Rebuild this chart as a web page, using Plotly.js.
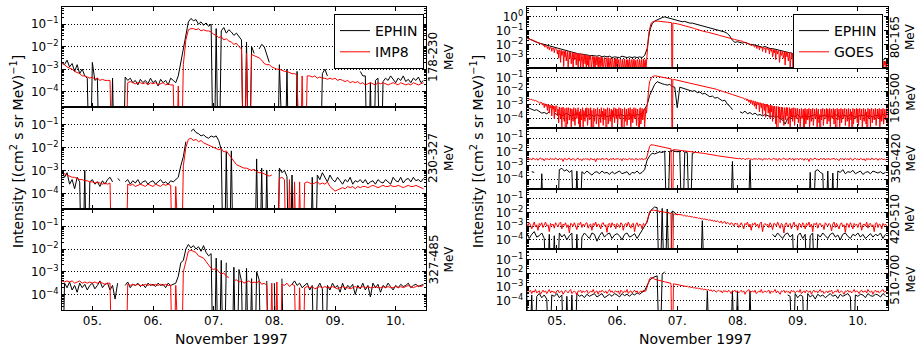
<!DOCTYPE html>
<html><head><meta charset="utf-8">
<script src="https://cdn.plot.ly/plotly-3.0.1.min.js"></script>
<style>html,body{margin:0;padding:0;background:#fff}#chart{width:924px;height:350px}</style>
</head><body><div id="chart"></div>
<script>
// ---------- time base ----------
const startTime = '1997-11-04 12:00';
const endTime = '1997-11-10 12:00';
const hourMs = 3600000;        // EPHIN / IMP8 sampling
const halfHourMs = 1800000;    // GOES sampling (high channels)
const quarterHourMs = 900000;  // GOES sampling (low channels)
const dayTicks = ['1997-11-05','1997-11-06','1997-11-07','1997-11-08','1997-11-09','1997-11-10'];
const dayTickText = ['05.','06.','07.','08.','09.','10.'];
const decadeTicks = [1e-4, 1e-3, 1e-2, 1e-1, 1];
const decadeText = ['10<sup>−4</sup>','10<sup>−3</sup>','10<sup>−2</sup>','10<sup>−1</sup>','10<sup>0</sup>'];

// ---------- data: log10 intensity (null = no data, -9 = zero count) ----------
// Left column, hourly from 4 Nov 12:00
const ephin_178_230 = [
-2.7,-2.8,-2.6,-2.9,-2.75,-3.1,-2.8,-3.2,-3.0,-3.3,-3.4,-9,
-2.7,-3.5,-3.4,-9,null,null,null,-9,-3.4,-9,null,null,
-9,-3.35,-3.5,-3.4,-3.6,-3.5,-3.7,-3.45,-3.6,-3.5,-3.65,-3.4,
-3.6,-3.5,-3.75,-3.45,-3.6,-3.5,-3.7,-3.4,-3.5,-3.6,-3.3,-2.7,
-2.2,-1.45,-0.9,-0.75,-0.85,-0.8,-1.0,-0.9,-1.05,-0.95,-1.1,-1.0,
-9,-1.2,-9,-1.3,-1.15,-1.4,-1.25,-1.35,-1.5,-1.4,-1.55,-1.7,
-9,-1.8,-9,-2.0,-2.3,null,-2.1,-1.9,-2.0,-2.4,-2.7,null,
null,-9,-2.8,-9,-9,-3.0,-9,null,-9,-3.1,-9,null,
null,null,null,null,null,null,-9,-3.2,-3.0,-3.3,null,null,
null,null,null,null,null,null,null,null,null,null,-3.1,-3.3,
-3.3,-9,-3.6,-9,-3.5,-3.4,-9,-3.55,-3.4,-3.5,-3.3,-3.45,
-3.6,-3.4,-3.5,-3.3,-3.55,-3.45,-3.6,-3.4,-3.5,-3.35,-3.6,-3.5];
const imp8_178_230 = [
-2.75,-2.8,-2.9,-2.95,-3.0,-3.1,-3.15,-3.2,-3.3,-3.3,-3.35,-3.4,
-3.35,-3.45,-3.4,-3.5,-3.45,-3.5,-3.5,-3.5,-9,null,null,null,
null,-9,-3.6,-3.55,-3.6,-3.65,-3.6,-3.6,-3.65,-3.6,-3.7,-3.6,
-3.65,-3.6,-3.7,-3.65,-3.6,-3.7,-3.65,-3.7,-3.7,-9,-3.75,-9,
-2.8,-1.7,-1.25,-1.2,-1.2,-1.25,-1.2,-1.3,-1.25,-1.3,-1.3,-1.35,
-1.45,-1.5,-1.6,-1.55,-1.7,-1.65,-1.75,-1.8,-1.9,-1.85,-2.0,-2.1,
-9,-2.3,-9,-2.35,-2.4,-2.45,-2.5,-2.6,-2.75,-2.8,-2.8,-2.9,
-2.95,-3.0,-3.0,-3.05,-3.1,-3.1,-3.15,-3.2,-3.2,-3.25,-9,-3.3,
-9,-3.3,-3.3,-3.35,-3.3,-3.4,-3.35,-3.4,-3.4,-3.45,-3.4,-3.45,
-3.4,-3.5,-3.45,-3.5,-3.55,-3.5,-3.6,-3.55,-3.6,-3.55,-3.65,-3.6,
-3.7,-3.65,-3.6,-3.65,-3.7,-3.6,-3.65,-3.6,-3.65,-3.7,-3.65,-3.6,
-3.65,-3.7,-3.6,-3.65,-3.7,-3.65,-3.7,-3.6,-3.65,-3.7,-3.65,-3.6];
const ephin_230_327 = [
-3.0,-3.3,-3.1,-3.6,-3.4,-3.8,-3.3,-3.5,-9,-3.0,-9,-3.5,
-3.4,-3.6,-3.5,-3.7,-3.45,-3.6,-3.4,-3.3,-3.5,null,-3.35,-3.45,
null,-3.5,-3.4,-3.6,-3.45,-3.55,-3.4,-3.6,-3.5,-3.45,-3.6,-3.5,
-3.45,-3.6,-3.5,-3.4,-3.55,-3.5,-3.6,-3.45,-3.5,-3.4,-3.3,-2.8,
-2.4,-1.75,null,-1.3,-1.2,-1.35,-1.4,-1.5,-1.45,-1.55,-1.6,-1.5,
-1.55,-1.5,-1.7,-2.1,-9,-2.2,-9,-2.15,-9,null,null,null,
null,null,null,null,-9,-2.5,-9,-2.9,-9,-3.0,-9,null,
null,-9,-2.9,-3.1,-3.0,-3.27,-9,-3.2,-9,null,null,null,
null,null,-9,-3.3,-9,-3.2,-3.4,-3.1,-3.3,-3.5,-3.2,-3.4,
-3.5,-3.3,-3.45,-3.6,-3.4,-3.5,-3.3,-3.6,-3.45,-3.5,-3.4,-3.55,
-3.4,-3.6,-3.5,-3.45,-3.6,-3.4,-3.5,-3.55,-3.4,-3.5,-3.6,-3.3,
-3.45,-3.5,-3.3,-3.55,-3.4,-3.35,-3.5,-3.3,-3.45,-3.4,-3.5,-3.35];
const imp8_230_327 = [
-3.1,-3.15,-3.2,-3.25,-3.3,-3.3,-3.35,-3.4,-3.4,-3.45,-3.45,-3.5,
-3.5,-3.55,-3.5,-3.55,-3.6,-3.55,-3.6,-3.55,-9,null,null,null,
null,-9,-3.6,-3.65,-3.6,-3.7,-3.65,-3.6,-3.65,-3.7,-3.6,-3.65,
-3.7,-3.6,-3.65,-3.7,-3.6,-3.65,-3.6,-3.65,-9,-3.7,-9,-9,
-2.8,-2.0,-1.65,-1.6,-1.7,-1.65,-1.75,-1.7,-1.8,-1.85,-1.9,-1.95,
-2.0,-2.05,-2.1,-2.05,-2.2,-2.15,-2.3,-2.4,-2.6,-2.75,-2.8,-2.85,
-2.9,-2.9,-2.95,-3.0,-2.95,-3.05,-3.1,-3.1,-3.15,-3.2,-3.25,-3.2,
null,-9,-3.35,-3.3,-3.4,-9,-3.4,-9,-3.5,-9,-3.5,-9,
-3.55,-3.5,-3.55,-3.6,-3.55,-3.5,-3.6,-3.55,-3.6,-3.5,-3.7,-3.8,
-3.9,-3.85,-3.8,-3.75,-3.8,-3.7,-3.75,-3.7,-3.8,-3.7,-3.75,-3.7,
-3.7,-3.75,-3.7,-3.65,-3.7,-3.75,-3.7,-3.65,-3.7,-3.7,-3.65,-3.7,
-3.7,-3.65,-3.7,-3.75,-3.7,-3.65,-3.7,-3.7,-3.65,-3.7,-3.75,-3.8];
const ephin_327_485 = [
-9,-3.5,-3.7,-3.45,-3.8,-3.6,-3.9,-3.5,-3.7,-3.55,-3.8,-3.6,
-3.5,-3.75,-3.6,-3.4,-3.7,-3.55,-3.5,-3.8,-3.6,-4.2,-3.5,null,
null,-3.6,-3.45,-3.7,-3.55,-3.6,-3.5,-3.65,-3.55,-3.7,-3.5,-3.6,
-3.55,-3.65,-3.5,-3.6,-3.55,-3.7,-3.5,-3.6,-3.55,-3.5,-3.2,-2.6,
-2.5,-2.0,-1.8,-1.95,-1.85,-2.0,-1.9,-2.1,-1.85,-2.15,-2.3,-2.2,
-9,-2.4,-9,-2.5,-9,-2.6,null,-9,-2.8,-9,-2.9,-3.4,
-9,-2.85,-9,-3.3,-9,-3.0,-3.35,-9,null,-3.4,-9,null,
-3.5,-9,null,-3.3,-9,null,null,-3.55,-3.4,-3.6,-3.5,-3.7,
-3.6,-3.5,-3.8,-3.6,-9,-3.7,-3.5,-3.75,-9,-3.6,-3.8,-3.5,
-3.7,-3.6,-3.9,-3.5,-3.8,-3.6,-3.7,-3.55,-4.0,-3.6,-3.75,-3.5,
-3.8,-3.6,-4.1,-3.5,-3.7,-3.55,-3.9,-3.6,-3.7,-3.5,-3.65,-3.8,
-3.6,-3.7,-3.55,-3.65,-3.6,-3.5,-3.7,-3.6,-3.55,-3.65,-3.6,-3.55];
const imp8_327_485 = [
-3.4,-3.45,-3.4,-3.45,-3.4,-3.5,-3.45,-3.4,-3.5,-3.45,-3.5,-3.45,
-3.5,-3.45,-3.5,-3.45,-3.5,-3.55,-3.5,-3.5,-9,null,null,null,
null,-9,-3.55,-3.6,-3.55,-3.6,-3.55,-3.6,-3.6,-3.55,-3.6,-3.55,
-3.6,-3.55,-3.6,-3.55,-3.6,-3.55,-3.6,-3.6,-9,-3.6,-9,-9,
-3.0,-2.5,-2.1,-2.05,-2.1,-2.15,-2.3,-2.35,-2.4,-2.55,-2.7,-2.85,
-2.9,-2.85,-3.0,-3.1,-3.05,-3.2,-3.25,null,-3.4,-3.35,-3.45,-3.4,
-3.5,-3.45,-3.4,-3.5,-3.45,-3.5,-3.4,-3.55,-3.5,-3.6,-9,-3.5,
-9,-3.45,-9,-3.55,-3.6,-3.5,-3.65,-3.55,-3.6,-9,-3.7,-9,
-3.7,-3.65,-3.7,-3.65,-3.75,-3.7,-3.65,-3.7,-3.65,-3.7,-3.7,-3.65,
-3.7,-3.75,-3.7,-3.65,-3.7,-3.7,-3.75,-3.7,-3.65,-3.7,-3.7,-3.65,
-3.7,-3.65,-3.7,-3.7,-3.65,-3.7,-3.7,-3.65,-3.7,-3.65,-3.7,-3.7,
-3.65,-3.7,-3.65,-3.7,-3.65,-3.6,-3.65,-3.7,-3.65,-3.6,-3.65,-3.6];

// Right column: EPHIN hourly, GOES quarter/half-hourly, from 4 Nov 12:00
const ephin_80_165 = [
-1.5,-1.6,-1.7,-1.75,-1.85,-1.9,-1.95,-2.0,-2.1,-2.15,-2.2,-2.25,
-2.3,-2.35,-2.4,-2.45,-2.5,-2.55,-2.6,-2.6,-2.65,-2.7,-2.7,-2.75,
-2.75,-2.8,-2.8,-2.85,-2.85,-2.8,-2.9,-2.85,-2.9,-2.85,-2.95,-2.9,
-2.9,-2.95,-2.85,-2.9,-2.95,-2.9,-2.95,-2.9,-2.95,-2.9,-2.95,-2.8,
-2.3,-1.0,-0.5,-0.3,-0.2,-0.1,-0.05,0.0,-0.05,-0.1,-0.15,-0.25,
-0.25,-0.3,-0.35,-0.33,-0.4,-0.45,-0.45,-0.5,-0.55,-0.6,-0.62,-0.68,
-0.72,-0.75,-0.85,-0.9,-0.95,-1.0,-1.02,-1.1,-1.2,-1.4,-1.7,-1.85,
-1.8,-1.85,-1.9,-1.85,-1.95,-2.0,-2.0,-2.05,-2.1,-2.15,-2.2,-2.15,
-2.25,-2.3,-2.3,-2.35,-2.4,-2.4,-2.45,-2.5,-2.55,-2.6,-2.65,-2.7,
-2.72,-2.75,-2.78,-2.8,-2.82,-2.85,-2.83,-2.88,-2.9,-2.92,-2.9,-2.95,
-2.95,-2.97,-3.0,-2.98,-3.0,-3.02,-3.0,-3.05,-3.03,-3.05,-3.08,-3.05,
-3.05,-3.1,-3.08,-3.1,-3.12,-3.1,-3.12,-3.15,-3.1,-3.12,-3.15,-3.0];
const goes_80_165 = [
-1.5,-1.55,-1.52,-1.6,-1.58,-1.62,-1.6,-1.68,-1.65,-1.7,-1.66,-1.75,-1.72,-1.78,-1.75,-1.82,-1.8,-1.85,-1.83,-1.9,-1.87,-1.95,-1.9,-1.98,
-1.95,-2.02,-2.0,-2.1,-2.03,-2.2,-2.08,-2.12,-2.1,-2.3,-2.15,-2.18,-2.4,-2.2,-2.25,-2.22,-2.5,-2.25,-2.3,-2.28,-2.6,-2.3,-2.35,-2.32,
-2.35,-2.7,-2.4,-3.0,-2.38,-2.45,-3.3,-2.42,-2.8,-2.5,-2.45,-3.6,-2.5,-2.9,-2.48,-3.2,-2.55,-2.5,-3.7,-2.6,-2.52,-3.0,-2.58,-3.4,
-2.6,-2.55,-3.9,-2.65,-3.1,-2.6,-2.7,-3.5,-2.62,-2.68,-3.9,-2.7,-3.2,-2.65,-3.7,-2.72,-2.7,-3.0,-3.9,-2.75,-2.7,-3.4,-2.78,-3.9,
-2.8,-3.5,-2.82,-3.9,-2.85,-3.1,-2.8,-3.9,-3.3,-2.88,-2.85,-3.7,-2.9,-3.9,-3.0,-2.88,-3.5,-2.92,-3.9,-2.9,-3.2,-3.9,-2.95,-2.9,
-3.6,-2.95,-3.9,-3.05,-2.95,-3.4,-3.9,-2.98,-3.0,-3.7,-2.95,-3.9,-3.1,-3.0,-3.5,-3.9,-3.02,-3.0,-3.9,-3.3,-3.05,-3.9,-3.0,-3.6,
-3.05,-3.9,-3.1,-3.4,-3.9,-3.05,-3.1,-3.9,-3.6,-3.08,-3.9,-3.2,-3.05,-3.9,-3.5,-3.1,-3.9,-3.1,-3.3,-3.9,-3.05,-3.7,-3.9,-3.12,
-3.1,-3.9,-3.4,-3.05,-3.9,-3.15,-3.6,-3.9,-3.1,-3.1,-3.9,-3.5,-3.08,-3.9,-3.2,-3.1,-3.9,-3.7,-3.05,-3.9,-3.3,-3.1,-3.9,-3.1,
-2.9,-2.2,-1.5,-1.1,-0.8,-0.6,-0.5,-0.42,-0.38,-0.35,-0.33,-0.32,-0.31,-0.3,-0.3,-0.3,-0.3,-0.31,-0.31,-0.32,-0.32,-0.33,-0.33,-0.34,
-0.34,-0.35,-0.35,-0.36,-0.36,-0.37,-0.37,-0.38,-0.38,-0.39,-0.39,-0.4,-0.4,-0.41,-0.41,-0.42,-9,-0.44,-0.45,-0.46,-0.46,-0.47,-0.48,-0.49,
-0.5,-0.51,-0.52,-0.53,-0.55,-0.56,-0.57,-0.58,-0.6,-0.61,-0.62,-0.63,-0.64,-0.65,-0.66,-0.67,-0.68,-0.69,-0.7,-0.72,-0.73,-0.75,-0.76,-0.77,
-0.8,-0.81,-0.82,-0.84,-0.85,-0.87,-0.88,-0.9,-0.91,-0.92,-0.94,-0.95,-0.97,-0.98,-1.0,-1.01,-1.02,-1.03,-1.05,-1.06,-1.07,-1.08,-1.09,-1.1,
-1.1,-1.11,-1.12,-1.14,-1.15,-1.16,-1.17,-1.19,-1.2,-1.21,-1.22,-1.24,-1.25,-1.26,-1.27,-1.29,-1.3,-1.31,-1.32,-1.34,-1.35,-1.36,-1.37,-1.39,
-1.4,-1.41,-1.42,-1.44,-1.45,-1.46,-1.47,-1.49,-1.5,-1.51,-1.52,-1.54,-1.55,-1.56,-1.58,-1.59,-1.6,-1.61,-1.62,-1.63,-1.65,-1.66,-1.67,-1.68,
-1.68,-1.7,-1.72,-1.7,-1.74,-1.76,-1.75,-1.78,-1.8,-1.78,-1.83,-1.82,-1.85,-1.88,-1.86,-1.9,-1.92,-1.9,-1.95,-1.98,-1.96,-2.0,-2.1,-2.02,
-2.05,-2.08,-2.06,-2.2,-2.1,-2.12,-2.1,-2.3,-2.14,-2.16,-2.15,-2.4,-2.18,-2.2,-2.25,-2.19,-2.5,-2.22,-2.24,-2.3,-2.23,-2.6,-2.26,-2.27,
-2.27,-2.4,-2.3,-2.7,-2.32,-2.35,-2.5,-2.34,-2.9,-2.38,-2.36,-2.6,-2.4,-3.1,-2.42,-2.45,-2.7,-2.44,-2.48,-3.3,-2.5,-2.47,-2.8,-2.52,
-2.5,-3.0,-2.55,-2.53,-3.5,-2.56,-2.58,-2.9,-2.57,-3.2,-2.6,-2.58,-3.7,-2.62,-2.6,-3.0,-2.63,-9,-2.62,-3.4,-2.65,-2.64,-3.9,-2.66,
-2.68,-3.2,-2.7,-3.9,-2.72,-2.9,-3.5,-2.74,-2.76,-3.9,-2.78,-3.1,-2.8,-3.7,-2.8,-2.82,-3.3,-3.9,-2.84,-2.86,-3.6,-2.85,-3.9,-2.88,
-3.0,-2.88,-3.9,-2.9,-3.4,-2.9,-3.9,-2.92,-3.2,-2.9,-3.7,-2.94,-2.92,-3.9,-3.1,-2.93,-3.5,-2.95,-3.9,-2.94,-3.3,-2.96,-3.9,-2.95,
-2.95,-3.6,-3.9,-2.98,-3.2,-2.97,-3.9,-3.0,-3.5,-2.99,-3.9,-3.02,-3.3,-3.0,-3.9,-3.7,-3.03,-3.05,-3.9,-3.2,-3.04,-3.9,-3.06,-3.5,
-3.05,-3.9,-3.08,-3.3,-3.9,-3.07,-3.6,-3.08,-3.9,-3.1,-3.2,-3.9,-3.09,-3.5,-3.9,-3.1,-3.11,-3.9,-3.4,-3.1,-3.9,-3.12,-3.7,-3.11,
-3.12,-3.9,-3.5,-3.13,-3.9,-3.15,-3.3,-3.9,-3.14,-3.6,-3.16,-3.9,-3.15,-3.4,-3.9,-3.17,-3.9,-3.18,-3.6,-3.16,-3.9,-3.2,-3.3,-3.9,
-3.18,-3.7,-3.9,-3.2,-3.19,-3.5,-3.9,-3.2,-3.9,-3.22,-3.4,-3.2,-3.9,-3.21,-3.6,-3.9,-3.22,-3.9,-3.2,-3.5,-3.23,-3.9,-3.22,-3.6];
const ephin_165_500 = [
-3.15,-3.25,-3.3,-3.4,-3.35,-3.5,-3.6,-3.55,-3.65,-3.5,null,-3.6,
-3.7,-3.65,-3.8,-3.7,-3.6,-3.75,-3.8,-3.7,-3.65,-3.8,-3.75,-3.7,
-3.8,-3.7,-3.75,-3.85,-3.7,-3.8,-3.75,-3.7,-3.85,-3.8,-3.75,-3.7,
-3.8,-3.75,-3.7,-3.85,-3.8,-3.7,-3.75,-3.8,-3.7,-3.75,-3.6,-3.3,
-3.0,-2.3,-1.9,-1.5,-1.3,-1.4,-1.45,-1.5,-1.55,-1.5,-1.65,-1.7,
-3.2,-1.7,-1.75,-1.8,-1.85,-1.9,-2.0,-1.95,-2.1,-2.05,-2.2,-2.15,
-2.3,-2.4,-2.35,-2.5,-2.45,-2.6,-2.7,-2.65,-2.95,-3.1,-3.35,null,
null,-3.5,-3.6,-3.45,-3.65,-3.55,-3.7,-3.6,-3.75,-3.7,-3.8,-3.7,
-3.75,-3.85,-3.8,-3.9,-3.85,-4.0,-4.1,-4.4,-4.0,-3.9,-3.8,-3.85,
-3.7,-3.9,-3.8,-3.75,-3.9,-3.85,-3.8,-3.7,-3.9,-3.85,-3.8,-3.75,
-3.9,-3.8,-3.85,-3.7,-3.8,-3.9,-3.75,-3.8,-3.85,-3.7,-3.8,-3.9,
-3.85,-3.75,-3.8,-3.7,-3.85,-3.8,-3.9,-3.75,-3.8,-3.85,-3.7,-3.8];
const goes_165_500 = [
-2.5,-2.52,-2.55,-2.53,-2.58,-2.56,-2.6,-2.58,-2.63,-2.61,-2.66,-2.64,-2.68,-2.7,-2.67,-2.73,-2.71,-2.76,-2.74,-2.8,-2.78,-2.9,-2.8,-2.85,
-2.83,-3.0,-2.86,-2.9,-3.2,-2.9,-2.95,-3.1,-2.93,-3.4,-2.96,-3.0,-3.6,-3.0,-3.2,-3.05,-3.8,-3.02,-3.3,-3.08,-4.0,-3.1,-3.5,-3.05,
-3.1,-3.8,-3.3,-4.3,-3.15,-3.6,-4.0,-3.2,-4.6,-3.4,-3.15,-3.9,-4.2,-3.25,-3.7,-9,-3.2,-4.4,-3.5,-3.2,-4.1,-3.8,-3.25,-4.6,
-3.3,-3.6,-4.2,-3.2,-3.9,-4.5,-3.25,-3.45,-4.0,-3.7,-3.2,-4.4,-3.5,-9,-3.3,-4.1,-3.8,-3.2,-4.6,-3.4,-3.6,-4.2,-3.25,-3.9,
-3.2,-4.5,-3.6,-3.25,-4.1,-3.9,-3.2,-4.6,-3.4,-3.8,-9,-3.25,-4.2,-3.5,-3.3,-4.4,-3.7,-3.2,-4.0,-4.6,-3.3,-3.6,-4.3,-3.2,
-3.9,-3.45,-4.5,-3.25,-3.7,-4.1,-3.3,-9,-3.5,-3.2,-4.4,-3.8,-3.25,-4.2,-3.6,-3.3,-4.6,-3.4,-3.9,-3.2,-4.3,-3.7,-3.25,-4.0,
-3.3,-4.4,-3.6,-3.2,-4.0,-3.8,-3.25,-4.6,-3.5,-3.3,-9,-3.7,-3.2,-4.2,-3.9,-3.3,-4.5,-3.4,-3.25,-4.1,-3.6,-3.2,-4.6,-3.8,
-3.3,-4.3,-3.5,-3.2,-4.0,-3.9,-3.25,-4.5,-3.6,-3.3,-4.2,-9,-3.4,-3.2,-4.4,-3.7,-3.25,-4.1,-3.5,-3.3,-4.6,-3.8,-3.2,-3.6,
-3.0,-2.5,-2.0,-1.6,-1.3,-1.15,-1.05,-0.98,-0.94,-0.91,-0.89,-0.88,-0.87,-0.87,-0.88,-0.88,-0.89,-0.9,-0.91,-0.92,-0.93,-0.94,-0.95,-0.96,
-0.97,-0.98,-0.99,-1.0,-1.01,-1.02,-1.03,-1.04,-1.05,-1.06,-1.07,-1.08,-1.09,-1.1,-1.1,-1.11,-9,-1.12,-1.13,-1.14,-1.15,-1.16,-1.17,-1.17,
-1.18,-1.19,-1.2,-1.21,-1.22,-1.23,-1.24,-1.25,-1.26,-1.27,-1.28,-1.29,-1.3,-1.31,-1.32,-1.33,-1.34,-1.35,-1.36,-1.37,-1.38,-1.39,-1.4,-1.41,
-1.42,-1.43,-1.44,-1.45,-1.46,-1.47,-1.48,-1.49,-1.5,-1.51,-1.52,-1.53,-1.54,-1.55,-1.56,-1.57,-1.58,-1.59,-1.6,-1.61,-1.62,-1.63,-1.64,-1.65,
-1.66,-1.67,-1.68,-1.69,-1.7,-1.72,-1.73,-1.75,-1.76,-1.78,-1.79,-1.81,-1.82,-1.84,-1.85,-1.87,-1.88,-1.9,-1.91,-1.93,-1.94,-1.96,-1.97,-1.99,
-2.0,-2.02,-2.03,-2.05,-2.06,-2.08,-2.09,-2.11,-2.12,-2.14,-2.15,-2.17,-2.18,-2.2,-2.21,-2.23,-2.24,-2.26,-2.27,-2.29,-2.3,-2.32,-2.33,-2.35,
-2.36,-2.38,-2.39,-2.41,-2.42,-2.44,-2.45,-2.5,-2.47,-2.49,-2.5,-2.6,-2.53,-2.54,-2.56,-2.7,-2.58,-2.6,-2.8,-2.62,-2.63,-2.9,-2.66,-2.68,
-3.0,-2.7,-2.72,-3.1,-2.74,-2.76,-3.3,-2.78,-2.8,-3.0,-2.82,-3.5,-2.84,-2.86,-3.2,-2.88,-3.7,-2.9,-2.92,-3.4,-2.93,-3.9,-2.95,-3.1,
-2.96,-3.6,-3.0,-3.3,-4.0,-3.02,-3.5,-3.05,-4.2,-3.1,-3.8,-3.08,-3.4,-4.4,-3.1,-3.6,-9,-3.12,-3.9,-3.15,-4.3,-3.5,-3.15,-4.0,
-3.18,-3.7,-4.5,-3.2,-3.4,-4.1,-3.18,-3.8,-3.2,-4.4,-3.5,-3.2,-4.6,-3.3,-3.9,-3.22,-4.2,-3.6,-3.2,-4.5,-3.4,-3.25,-4.0,-3.7,
-3.25,-4.3,-3.6,-3.3,-4.6,-3.5,-3.25,-4.0,-3.8,-3.3,-9,-3.4,-3.25,-4.4,-3.7,-3.3,-4.1,-3.5,-3.25,-4.6,-3.9,-3.3,-4.2,-3.6,
-3.25,-4.5,-3.4,-3.3,-4.0,-3.8,-3.25,-4.6,-3.5,-3.3,-4.3,-3.7,-9,-3.3,-4.1,-3.6,-3.25,-4.5,-3.4,-3.3,-4.0,-3.9,-3.25,-4.4,
-3.3,-3.6,-4.2,-3.25,-4.6,-3.5,-3.3,-4.0,-3.8,-3.25,-4.4,-3.4,-3.3,-9,-3.7,-3.25,-4.1,-3.5,-3.3,-4.6,-3.6,-3.25,-4.3,-3.9,
-3.3,-4.0,-3.5,-3.25,-4.5,-3.7,-3.3,-4.2,-3.4,-3.25,-4.6,-3.8,-3.3,-4.1,-3.5,-9,-3.25,-4.4,-3.6,-3.3,-4.0,-3.9,-3.25,-4.3,
-3.3,-4.5,-3.6,-3.25,-4.1,-3.8,-3.3,-4.6,-3.4,-3.25,-4.2,-3.7,-3.3,-4.4,-3.5,-9,-3.25,-4.0,-3.9,-3.3,-4.6,-3.5,-3.25,-4.3,
-3.6,-3.3,-4.1,-3.8,-3.25,-4.5,-3.4,-3.3,-4.0,-3.7,-3.25,-4.6,-3.5,-3.3,-4.2,-3.9,-3.25,-4.4,-3.6,-3.3,-4.1,-3.8,-3.25,-4.5];
const ephin_350_420 = [
null,null,-3.45,-3.5,null,-9,-3.6,-9,null,null,null,null,
-9,-3.3,-3.2,-3.4,-3.3,-3.5,-3.35,-9,-3.4,-9,-3.45,-3.6,
-3.4,-3.55,-3.7,-3.5,-3.45,-3.6,-3.4,-3.55,-3.5,-3.65,-3.45,-3.6,
-3.5,-3.4,-3.6,-3.55,-3.45,-3.7,-3.5,-3.55,-3.4,-3.6,-3.5,-3.3,
-2.6,-2.3,-2.1,-2.15,-2.05,-2.0,-2.05,-1.95,-9,-1.95,-1.9,-1.95,
-2.0,-1.95,-9,-2.0,-2.05,-9,-2.1,-2.05,null,null,null,null,
null,null,null,null,null,null,null,null,null,-9,-2.7,-9,
null,null,null,null,-9,-2.6,-9,null,null,null,null,null,
null,null,null,null,null,null,null,null,null,null,null,null,
null,null,null,null,-9,-3.5,-9,-3.4,-3.3,-3.5,-3.6,-9,
-3.4,-9,-3.55,-9,-3.4,-3.5,-3.3,-3.6,-3.45,-3.5,-3.35,-3.6,
-3.5,-3.4,-3.65,-3.5,-3.45,-3.6,-3.4,-3.5,-3.55,-3.45,-3.6,-3.5];
const goes_350_420 = [
-2.5,-2.45,-2.55,-2.5,-2.6,-2.45,-2.52,-2.58,-2.48,-2.62,-2.5,-2.44,-2.56,-2.5,-2.65,-2.48,-2.54,-2.5,-2.6,-2.46,-2.55,-2.5,-2.58,-2.45,
-2.52,-2.6,-2.48,-2.55,-2.5,-2.7,-2.47,-2.53,-2.58,-2.5,-2.45,-2.6,-2.52,-2.48,-2.56,-2.62,-2.5,-2.46,-2.58,-2.52,-2.65,-2.5,-2.55,-2.48,
-2.55,-2.5,-2.62,-2.47,-2.53,-2.58,-2.5,-2.72,-2.48,-2.55,-2.5,-2.6,-2.46,-2.54,-2.58,-2.5,-2.48,-2.62,-2.52,-2.5,-2.56,-2.45,-2.6,-2.5,
-2.53,-2.48,-2.58,-2.5,-2.65,-2.47,-2.55,-2.5,-2.6,-2.52,-2.46,-2.57,-2.5,-2.54,-2.62,-2.48,-2.52,-2.58,-2.5,-2.55,-2.47,-2.6,-2.5,-2.53,
-2.3,-1.9,-1.6,-1.48,-1.47,-1.5,-1.52,-1.54,-1.56,-1.58,-1.6,-1.62,-1.64,-1.66,-1.68,-1.7,-1.72,-1.74,-1.76,-1.78,-9,-1.82,-1.84,-1.85,
-1.86,-1.87,-1.88,-1.9,-1.91,-1.92,-1.93,-1.95,-1.96,-1.97,-1.98,-2.0,-2.01,-2.02,-2.03,-2.04,-2.05,-2.06,-2.08,-2.09,-2.1,-2.11,-2.12,-2.14,
-2.15,-2.17,-2.19,-2.2,-2.22,-2.24,-2.25,-2.27,-2.28,-2.3,-2.31,-2.33,-2.34,-2.35,-2.37,-2.38,-2.4,-2.41,-2.42,-2.43,-2.44,-2.45,-2.46,-2.47,
-2.48,-2.5,-2.45,-2.55,-2.5,-2.48,-2.58,-2.5,-2.52,-2.46,-2.56,-2.5,-2.6,-2.48,-2.53,-2.5,-2.57,-2.47,-2.55,-2.5,-2.62,-2.49,-2.54,-2.5,
-2.56,-2.48,-2.52,-2.6,-2.5,-2.47,-2.55,-2.5,-2.65,-2.48,-2.53,-2.58,-2.5,-2.45,-2.56,-2.52,-2.6,-2.48,-2.5,-2.55,-2.47,-2.62,-2.5,-2.53,
-2.5,-2.58,-2.46,-2.54,-2.5,-2.62,-2.48,-2.55,-2.5,-2.7,-2.47,-2.53,-2.58,-2.5,-2.45,-2.57,-2.52,-2.6,-2.48,-2.5,-2.56,-2.46,-2.6,-2.5,
-2.54,-2.48,-2.6,-2.5,-2.52,-2.46,-2.58,-2.5,-2.55,-2.65,-2.48,-2.53,-2.5,-2.6,-2.47,-2.55,-2.5,-2.58,-2.45,-2.54,-2.62,-2.5,-2.48,-2.56,
-2.5,-2.6,-2.47,-2.53,-2.58,-2.5,-2.66,-2.48,-2.55,-2.5,-2.6,-2.46,-2.52,-2.57,-2.5,-2.48,-2.62,-2.5,-2.55,-2.47,-2.58,-2.52,-2.6,-2.5];
const ephin_420_510 = [
-3.5,-3.9,-3.6,-3.4,-3.8,-3.7,-3.5,-3.9,-9,-3.6,-9,-3.7,
-9,-3.5,-3.8,-3.6,-4.0,-3.7,-3.5,-9,-3.6,-9,-3.8,-3.5,
-3.7,-3.9,-3.5,-3.6,-4.1,-3.7,-3.45,-3.8,-3.6,-3.5,-3.9,-3.65,
-3.55,-3.7,-4.0,-3.6,-3.5,-3.8,-3.7,-3.55,-3.9,-3.6,-3.4,-3.0,
-2.7,-2.0,-1.75,-1.6,-1.65,-9,-1.7,-9,-1.75,-9,-1.9,-2.0,
-2.2,null,null,null,null,null,null,null,null,-9,-2.6,-9,
null,null,null,null,null,null,null,null,null,null,null,null,
null,null,null,null,null,null,null,null,null,null,null,null,
null,null,-3.6,-3.8,-3.5,-3.7,-3.9,-3.6,-3.5,-3.8,-3.6,-9,
-3.7,-3.5,-3.9,-3.6,-9,-3.7,-3.5,-9,-3.6,-3.8,-3.5,-3.7,
-3.9,-3.6,-3.5,-3.8,-3.65,-4.0,-3.6,-3.5,-3.75,-3.9,-3.6,-3.7,
-3.5,-3.8,-3.6,-3.9,-3.7,-3.55,-3.8,-3.6,-3.7,-3.5,-3.9,-3.6];
const goes_420_510 = [
-2.8,-3.0,-2.75,-2.9,-3.2,-2.85,-2.7,-3.05,-2.9,-3.3,-2.8,-2.95,-2.75,-3.1,-2.85,-2.7,-3.0,-2.9,-3.4,-2.8,-2.95,-2.85,-3.15,-2.75,
-2.9,-3.05,-2.8,-2.7,-3.2,-2.85,-2.95,-2.75,-3.1,-2.9,-3.5,-2.8,-2.85,-3.0,-2.75,-2.95,-3.25,-2.8,-2.9,-2.7,-3.1,-2.85,-3.0,-2.8,
-2.75,-3.15,-2.9,-2.85,-3.3,-2.8,-2.95,-2.7,-3.05,-2.85,-2.9,-3.2,-2.8,-2.75,-3.0,-2.9,-3.45,-2.85,-2.8,-3.1,-2.75,-2.95,-2.85,-3.2,
-2.8,-2.9,-3.1,-2.75,-2.85,-3.3,-2.9,-2.8,-3.0,-2.7,-2.95,-3.15,-2.85,-2.8,-3.4,-2.9,-2.75,-3.05,-2.85,-2.9,-3.2,-2.8,-2.95,-2.85,
-2.6,-2.2,-1.95,-1.85,-1.82,-1.83,-1.85,-1.86,-1.88,-1.9,-1.92,-1.93,-1.95,-1.96,-1.98,-2.0,-2.02,-2.03,-2.05,-2.07,-9,-2.1,-2.12,-2.13,
-2.15,-2.2,-2.16,-2.22,-2.18,-2.25,-2.2,-2.28,-2.24,-2.3,-2.27,-2.33,-2.3,-2.38,-2.34,-2.4,-2.37,-2.45,-2.4,-2.48,-2.44,-2.5,-2.47,-2.53,
-2.5,-2.58,-2.52,-2.6,-2.55,-2.65,-2.58,-2.7,-2.6,-2.68,-2.75,-2.62,-2.8,-2.7,-2.66,-2.85,-2.72,-2.78,-2.9,-2.75,-2.8,-3.0,-2.78,-2.85,
-2.8,-3.1,-2.85,-2.75,-2.95,-3.2,-2.8,-2.9,-2.7,-3.05,-2.85,-3.3,-2.8,-2.9,-2.75,-3.0,-2.85,-3.15,-2.8,-2.7,-3.4,-2.9,-2.8,-2.95,
-2.85,-3.1,-2.75,-2.9,-3.25,-2.8,-2.85,-3.0,-2.7,-2.95,-3.15,-2.8,-2.9,-3.5,-2.85,-2.75,-3.05,-2.9,-2.8,-3.2,-2.85,-2.7,-3.0,-2.9,
-3.3,-2.8,-2.85,-3.1,-2.75,-2.9,-3.2,-2.8,-2.95,-2.7,-3.05,-2.85,-3.4,-2.8,-2.9,-2.75,-3.15,-2.85,-2.8,-3.0,-2.9,-3.25,-2.75,-2.85,
-3.0,-2.8,-2.9,-3.35,-2.85,-2.7,-3.1,-2.8,-2.95,-3.2,-2.85,-2.75,-3.05,-2.9,-3.45,-2.8,-2.85,-3.1,-2.75,-2.9,-3.2,-2.8,-2.95,-2.85,
-3.1,-2.8,-2.75,-3.3,-2.9,-2.85,-3.0,-2.7,-3.15,-2.85,-2.8,-3.05,-2.9,-3.4,-2.8,-2.75,-3.1,-2.85,-2.9,-3.2,-2.8,-2.95,-2.85,-3.0];
const ephin_510_700 = [
-3.5,-9,-3.6,-9,-3.7,-3.5,-3.8,-3.6,-3.9,-9,-3.6,-3.7,
-3.5,-3.8,-3.6,-9,-3.7,-9,-3.6,-9,-3.5,-3.7,-3.6,-3.8,
-3.55,-3.7,-3.6,-3.5,-3.75,-3.6,-3.5,-3.8,-3.65,-3.55,-3.7,-3.5,
-3.6,-3.75,-3.5,-3.65,-3.55,-3.7,-3.5,-3.6,-3.45,-3.55,-3.4,-3.3,
-2.9,-2.55,-2.35,-2.25,-2.2,-9,-2.1,-1.9,null,null,null,null,
null,null,null,null,null,null,null,null,null,null,null,-9,
-3.3,-9,null,null,null,null,null,null,null,-9,-3.3,-9,
-3.3,-9,null,null,-9,-3.3,-9,null,null,null,null,null,
null,null,null,null,null,null,null,null,-3.6,-3.7,-9,-3.5,
-3.8,-3.6,-3.7,-9,-3.5,-3.75,-3.6,-3.9,-3.55,-3.7,-3.6,-3.8,
-3.65,-3.5,-3.7,-3.6,-3.85,-3.55,-3.7,-3.6,-3.5,-3.75,-9,-3.6,
-3.7,-3.55,-3.6,-3.8,-3.5,-3.65,-3.7,-3.55,-3.6,-3.75,-3.5,-3.65];
const goes_510_700 = [
-3.3,-3.45,-3.35,-3.25,-3.5,-3.3,-3.4,-3.2,-3.45,-3.35,-3.3,-3.55,-3.35,-3.25,-3.4,-3.3,-3.5,-3.35,-3.2,-3.45,-3.3,-3.4,-3.35,-3.5,
-3.3,-3.25,-3.45,-3.35,-3.3,-3.55,-3.4,-3.25,-3.35,-3.45,-3.3,-3.2,-3.5,-3.35,-3.3,-3.4,-3.6,-3.3,-3.35,-3.25,-3.45,-3.3,-3.4,-3.35,
-3.25,-3.5,-3.35,-3.3,-3.4,-3.2,-3.45,-3.35,-3.3,-3.55,-3.3,-3.4,-3.25,-3.35,-3.45,-3.3,-3.5,-3.35,-3.2,-3.4,-3.3,-3.45,-3.35,-3.3,
-3.4,-3.3,-3.55,-3.25,-3.35,-3.45,-3.3,-3.4,-3.2,-3.5,-3.35,-3.3,-3.45,-3.35,-3.25,-3.4,-3.3,-3.5,-3.35,-3.3,-3.4,-3.25,-3.35,-3.3,
-3.0,-2.6,-2.4,-2.33,-2.35,-2.4,-2.45,-2.48,-2.5,-2.53,-2.56,-2.58,-2.6,-2.62,-2.64,-2.66,-2.68,-2.7,-2.72,-2.75,-9,-2.78,-2.8,-2.82,
-2.84,-2.88,-2.85,-2.92,-2.9,-2.95,-2.93,-2.98,-2.96,-3.02,-3.0,-3.05,-3.03,-3.08,-3.06,-3.12,-3.09,-3.15,-3.12,-3.18,-3.15,-3.22,-3.18,-3.24,
-3.25,-3.2,-3.3,-3.22,-3.35,-3.25,-3.28,-3.4,-3.3,-3.25,-3.35,-3.3,-3.45,-3.28,-3.35,-3.3,-3.4,-3.25,-3.35,-3.5,-3.3,-3.35,-3.25,-3.4,
-3.3,-3.45,-3.35,-3.25,-3.4,-3.3,-3.55,-3.35,-3.3,-3.2,-3.45,-3.35,-3.3,-3.4,-3.25,-3.5,-3.35,-3.3,-3.4,-3.2,-3.45,-3.35,-3.3,-3.4,
-3.35,-3.25,-3.5,-3.3,-3.4,-3.35,-3.2,-3.45,-3.3,-3.4,-3.55,-3.3,-3.35,-3.25,-3.45,-3.3,-3.4,-3.35,-3.5,-3.25,-3.35,-3.3,-3.45,-3.35,
-3.3,-3.4,-3.2,-3.5,-3.35,-3.3,-3.45,-3.25,-3.35,-3.4,-3.3,-3.55,-3.35,-3.25,-3.4,-3.3,-3.45,-3.35,-3.2,-3.4,-3.3,-3.5,-3.35,-3.3,
-3.45,-3.3,-3.35,-3.25,-3.5,-3.35,-3.3,-3.4,-3.2,-3.45,-3.35,-3.3,-3.4,-3.55,-3.3,-3.35,-3.25,-3.4,-3.3,-3.45,-3.35,-3.2,-3.4,-3.3,
-3.35,-3.5,-3.3,-3.25,-3.4,-3.35,-3.3,-3.45,-3.2,-3.35,-3.4,-3.3,-3.55,-3.35,-3.25,-3.4,-3.3,-3.45,-3.35,-3.3,-3.2,-3.4,-3.35,-3.3];

// ---------- helpers ----------
function toIntensity(arr){ return arr.map(v => v === null ? null : Math.pow(10, v)); }
const W = 924, H = 350;
const fx = p => p / W;
const fy = p => 1 - p / H;

const leftX = [fx(62), fx(426)];
const rightX = [fx(526.7), fx(888)];

const panels = [
  {e: ephin_178_230, o: imp8_178_230, oName:'IMP8', oDt: hourMs, label:'178-230<br>MeV', yr:[-4.68,-0.24], xd:leftX, top:7, bot:107, bottomRow:false, lg:'legend', lx:441},
  {e: ephin_230_327, o: imp8_230_327, oName:'IMP8', oDt: hourMs, label:'230-327<br>MeV', yr:[-4.68,-0.24], xd:leftX, top:107, bot:209, bottomRow:false, lg:'legend', lx:441},
  {e: ephin_327_485, o: imp8_327_485, oName:'IMP8', oDt: hourMs, label:'327-485<br>MeV', yr:[-4.68,-0.24], xd:leftX, top:209, bot:310, bottomRow:true, lg:'legend', lx:441},
  {e: ephin_80_165, o: goes_80_165, oName:'GOES', oDt: quarterHourMs, label:'80-165<br>MeV', yr:[-3.68,0.72], xd:rightX, top:7, bot:67.6, bottomRow:false, lg:'legend2', lx:903},
  {e: ephin_165_500, o: goes_165_500, oName:'GOES', oDt: quarterHourMs, label:'165-500<br>MeV', yr:[-4.7,-0.27], xd:rightX, top:67.6, bot:128.2, bottomRow:false, lg:'legend2', lx:903},
  {e: ephin_350_420, o: goes_350_420, oName:'GOES', oDt: halfHourMs, label:'350-420<br>MeV', yr:[-4.7,-0.27], xd:rightX, top:128.2, bot:188.8, bottomRow:false, lg:'legend2', lx:903},
  {e: ephin_420_510, o: goes_420_510, oName:'GOES', oDt: halfHourMs, label:'420-510<br>MeV', yr:[-4.7,-0.27], xd:rightX, top:188.8, bot:249.4, bottomRow:false, lg:'legend2', lx:903},
  {e: ephin_510_700, o: goes_510_700, oName:'GOES', oDt: halfHourMs, label:'510-700<br>MeV', yr:[-4.7,-0.27], xd:rightX, top:249.4, bot:310, bottomRow:true, lg:'legend2', lx:903}
];

const traces = [];
const layout = {
  width: W, height: H,
  margin: {l:0, r:0, t:0, b:0},
  paper_bgcolor: 'white', plot_bgcolor: 'white',
  font: {family: 'DejaVu Sans, sans-serif', size: 12, color: 'black'},
  showlegend: true,
  legend: {x: fx(424), xanchor:'right', y: fy(14), yanchor:'top', bgcolor:'white', bordercolor:'black', borderwidth:1, font:{size:14}, itemwidth:30, tracegroupgap:0},
  legend2: {x: fx(883), xanchor:'right', y: fy(14), yanchor:'top', bgcolor:'white', bordercolor:'black', borderwidth:1, font:{size:14}, itemwidth:30, tracegroupgap:0},
  annotations: []
};

panels.forEach((p, k) => {
  const n = k + 1;
  const sfx = n === 1 ? '' : String(n);
  const first = (k === 0 || k === 3);
  traces.push({type:'scatter', mode:'lines', name:'EPHIN', x0:startTime, dx:hourMs, y: toIntensity(p.e),
    xaxis:'x'+sfx, yaxis:'y'+sfx, line:{color:'#000000', width:1}, showlegend:first, legend:p.lg, hoverinfo:'skip'});
  traces.push({type:'scatter', mode:'lines', name:p.oName, x0:startTime, dx:p.oDt, y: toIntensity(p.o),
    xaxis:'x'+sfx, yaxis:'y'+sfx, line:{color:'#ff0000', width:1}, showlegend:first, legend:p.lg, hoverinfo:'skip'});
  layout['xaxis'+sfx] = {
    type:'date', range:[startTime, endTime], domain:p.xd, anchor:'y'+sfx,
    showline:true, mirror:'ticks', linecolor:'black', linewidth:1,
    ticks:'inside', ticklen:4, tickcolor:'black', tickwidth:1,
    tickmode:'array', tickvals:dayTicks, ticktext:dayTickText,
    showticklabels:p.bottomRow, tickfont:{size:12},
    showgrid:false, zeroline:false, fixedrange:true
  };
  layout['yaxis'+sfx] = {
    type:'log', range:p.yr, domain:[fy(p.bot), fy(p.top)], anchor:'x'+sfx,
    showline:true, mirror:'ticks', linecolor:'black', linewidth:1,
    ticks:'inside', ticklen:4, tickcolor:'black', tickwidth:1,
    tickmode:'array', tickvals:decadeTicks, ticktext:decadeText, tickfont:{size:12},
    showgrid:true, gridcolor:'#000000', gridwidth:1, griddash:'1px,2px',
    minor:{ticks:'inside', ticklen:2, tickcolor:'black', dtick:'D1', showgrid:false},
    zeroline:false, fixedrange:true
  };
  layout.annotations.push({xref:'paper', yref:'paper', x:fx(p.lx), y:fy((p.top+p.bot)/2),
    text:p.label, showarrow:false, textangle:-90, xanchor:'center', yanchor:'middle',
    font:{size:12}, align:'center'});
});

const yTitle = 'Intensity [(cm<sup>2</sup> s sr MeV)<sup>−1</sup>]';
layout.annotations.push({xref:'paper', yref:'paper', x:fx(17), y:fy(152), text:yTitle, showarrow:false, textangle:-90, xanchor:'center', yanchor:'middle', font:{size:14}});
layout.annotations.push({xref:'paper', yref:'paper', x:fx(477), y:fy(152), text:yTitle, showarrow:false, textangle:-90, xanchor:'center', yanchor:'middle', font:{size:14}});
layout.annotations.push({xref:'paper', yref:'paper', x:fx(231), y:fy(339), text:'November 1997', showarrow:false, xanchor:'center', yanchor:'middle', font:{size:14}});
layout.annotations.push({xref:'paper', yref:'paper', x:fx(695), y:fy(339), text:'November 1997', showarrow:false, xanchor:'center', yanchor:'middle', font:{size:14}});

Plotly.newPlot('chart', traces, layout, {displayModeBar:false, staticPlot:true});
</script>
</body></html>
